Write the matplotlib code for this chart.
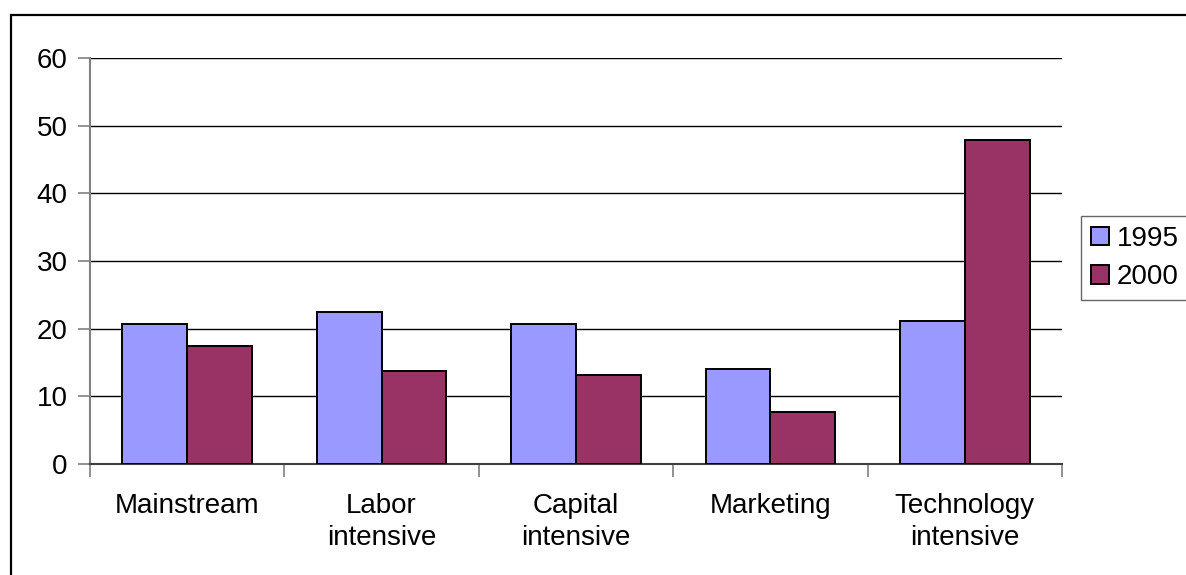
import matplotlib
matplotlib.use("Agg")
import matplotlib.pyplot as plt
import numpy as np
from matplotlib.patches import Rectangle

categories = ["Mainstream", "Labor\nintensive", "Capital\nintensive", "Marketing", "Technology\nintensive"]
series_names = ["1995", "2000"]
values_1995 = [20.7, 22.5, 20.7, 14.0, 21.2]
values_2000 = [17.4, 13.7, 13.1, 7.7, 47.9]
y_ticks = [0, 10, 20, 30, 40, 50, 60]

color_1995 = "#9999FF"
color_2000 = "#993366"

W, H = 1186, 575
DPI = 100
plt.rcParams["font.family"] = ["Liberation Sans", "DejaVu Sans"]
FS = 20

fig = plt.figure(figsize=(W / DPI, H / DPI), dpi=DPI)
fig.patch.set_facecolor("white")

# chart frame (left and top edges visible)
fig.patches.append(Rectangle((11 / W, -0.1), 1.2, 1 - 15 / H + 0.1,
                             transform=fig.transFigure, fill=False,
                             edgecolor="black", linewidth=1.6, zorder=0))

left, right, top, bottom = 90, 1062, 58, 464
ax = fig.add_axes([left / W, 1 - bottom / H, (right - left) / W, (bottom - top) / H])

n = len(categories)
x = np.arange(n)
bw = 1 / 3
ax.bar(x - bw / 2, values_1995, width=bw, color=color_1995, edgecolor="black",
       linewidth=1.4, label=series_names[0], zorder=3)
ax.bar(x + bw / 2, values_2000, width=bw, color=color_2000, edgecolor="black",
       linewidth=1.4, label=series_names[1], zorder=3)

ax.set_xlim(-0.5, n - 0.5)
ax.set_ylim(0, 60)
ax.set_yticks(y_ticks)
ax.set_yticklabels([str(v) for v in y_ticks], fontsize=FS)
ax.yaxis.grid(True, color="black", linewidth=1.0, zorder=1)
ax.set_axisbelow(True)

# category boundaries carry the tick marks; labels sit at the centers
ax.set_xticks(np.arange(n + 1) - 0.5)
ax.set_xticklabels([])
ax.set_xticks(x, minor=True)
ax.set_xticklabels(categories, minor=True, fontsize=FS, linespacing=1.3)
ax.tick_params(axis="x", which="minor", length=0, pad=21)
ax.tick_params(axis="x", which="major", length=9, width=1.2, color="#808080", direction="out")
ax.tick_params(axis="y", length=9, width=1.2, color="#808080", direction="out", pad=7)

for side in ["top", "right"]:
    ax.spines[side].set_visible(False)
ax.spines["left"].set_color("#808080")
ax.spines["left"].set_linewidth(1.5)
ax.spines["bottom"].set_color("#404040")
ax.spines["bottom"].set_linewidth(1.5)

leg = fig.legend(loc="upper left", bbox_to_anchor=(1081 / W, 1 - 216 / H),
                 fontsize=FS, frameon=True, fancybox=False, edgecolor="#404040",
                 handlelength=0.65, handleheight=0.65, handletextpad=0.3,
                 labelspacing=0.45, borderpad=0.35, borderaxespad=0)
leg.get_frame().set_linewidth(1.0)

fig.savefig("out.png", dpi=DPI, facecolor="white")
